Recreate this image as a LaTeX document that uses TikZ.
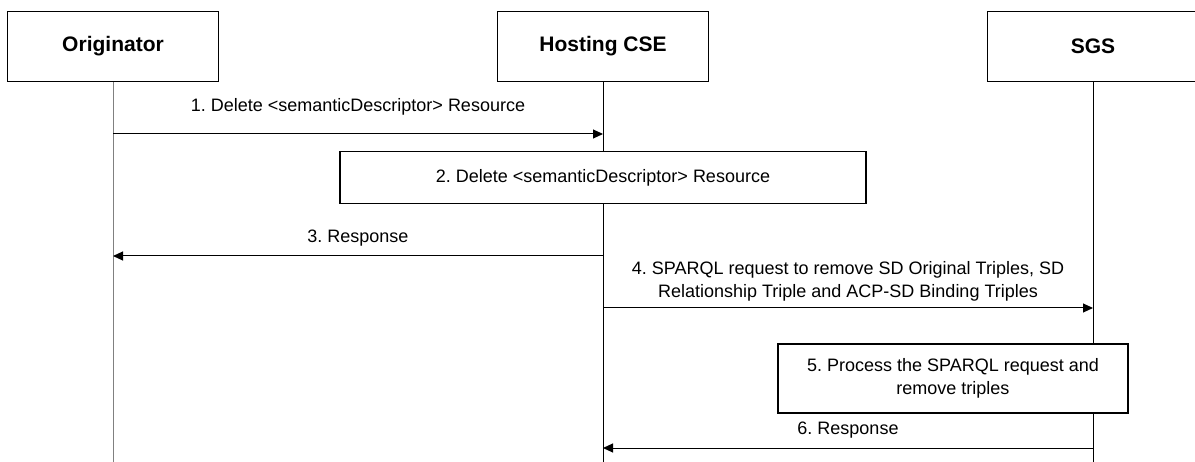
\documentclass[tikz,border=0pt]{standalone}
\usepackage{fontspec}
\setmainfont{Liberation Sans}
\usetikzlibrary{arrows.meta}
\frenchspacing

\tikzset{
	actor/.style={draw,line width=1.3pt,fill=white,minimum width=211pt,minimum height=70pt,font=\bfseries\fontsize{21}{25}\selectfont},
	stepbox/.style={draw,line width=1.1pt,fill=white,align=center,font=\fontsize{18}{23}\selectfont},
	msg/.style={line width=1pt,-{Triangle[length=10pt,width=9pt]}},
	lbl/.style={align=center,font=\fontsize{18}{23}\selectfont},
}

\begin{document}
\begin{tikzpicture}[x=1pt,y=-1pt]
			\useasboundingbox (0,0) rectangle (1195,462);
			% lifelines
			\node[actor] (orig) at (113,46.5){Originator};
			\node[actor] (cse) at (603,46.5){Hosting CSE};
			\node[actor] (sgs) at (1093,46.5){SGS};
			\foreach\n/\x/\c in {orig/113/gray,cse/603/black,sgs/1093/black}{
				\coordinate (\n-end) at (\x,462);
				\draw[\c,line width=1pt] (\n) to (\n-end);
			}
			% message points
			\coordinate (o1) at (113,134);
			\coordinate (c1) at (603,134);
			\coordinate (c3) at (603,256);
			\coordinate (o3) at (113,256);
			\coordinate (c4) at (603,308);
			\coordinate (s4) at (1093,308);
			\coordinate (s6) at (1093,448);
			\coordinate (c6) at (603,448);
			\draw[msg] (o1) to node[lbl,yshift=27pt]{1. Delete <semanticDescriptor> Resource} (c1);
			\node[stepbox,minimum width=526pt,minimum height=52pt] (del) at (603,177.5){2. Delete <semanticDescriptor> Resource};
			\draw[msg] (c3) to node[lbl,yshift=18pt]{3. Response} (o3);
			\draw[msg] (c4) to node[lbl,yshift=26.5pt]{4. SPARQL request to remove SD Original Triples, SD\\Relationship Triple and ACP-SD Binding Triples} (s4);
			\node[stepbox,minimum width=350pt,minimum height=69pt] (proc) at (953,378.5){5. Process the SPARQL request and\\remove triples};
			\draw[msg] (s6) to node[lbl,yshift=18pt]{6. Response} (c6);
		\end{tikzpicture}
\end{document}
